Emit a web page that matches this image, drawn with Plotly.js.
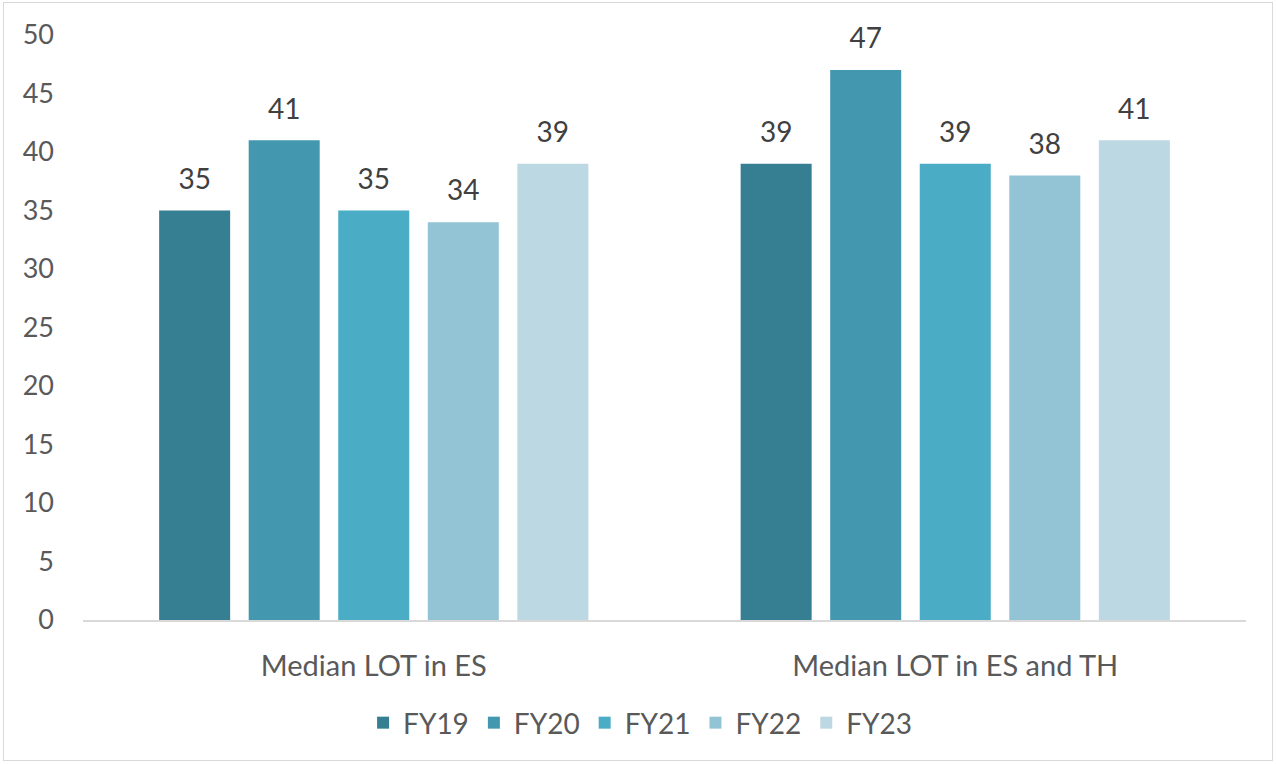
<!DOCTYPE html>
<html>
<head>
<meta charset="utf-8">
<script src="https://cdn.plot.ly/plotly-3.0.1.min.js"></script>
<style>
  html, body { margin: 0; padding: 0; background: #ffffff; }
  #frame { position: absolute; left: 3px; top: 2px; width: 1270px; height: 759px; border: 1px solid #d9d9d9; box-sizing: border-box; background: #fff; }
  #chart { width: 1268px; height: 757px; }
</style>
</head>
<body>
<div id="frame"><div id="chart"></div></div>
<script>
const categories = ["Median LOT in ES", "Median LOT in ES and TH"];
const seriesNames = ["FY19", "FY20", "FY21", "FY22", "FY23"];
const fy19 = [35, 39];
const fy20 = [41, 47];
const fy21 = [35, 39];
const fy22 = [34, 38];
const fy23 = [39, 41];
const seriesValues = [fy19, fy20, fy21, fy22, fy23];
const colors = ["#367f93", "#4398b0", "#4bacc6", "#93c4d5", "#bcd8e3"];

const FONT = "Lato, 'Open Sans', sans-serif";
const traces = [];
seriesValues.forEach((vals, i) => {
  traces.push({
    type: "bar",
    name: seriesNames[i],
    x: categories,
    y: vals,
    marker: { color: colors[i] },
    hoverinfo: "x+y+name"
  });
});
seriesValues.forEach((vals, i) => {
  traces.push({
    type: "scatter",
    mode: "markers+text",
    x: categories,
    y: vals,
    text: vals.map(String),
    textposition: "top center",
    textfont: { family: FONT, size: 28, color: "#404040" },
    marker: { size: 22, opacity: 0 },
    showlegend: false,
    hoverinfo: "skip",
    cliponaxis: false
  });
});

const layout = {
  width: 1268,
  height: 757,
  margin: { l: 79, r: 26, t: 32, b: 140 },
  paper_bgcolor: "#ffffff",
  plot_bgcolor: "#ffffff",
  font: { family: FONT, color: "#595959", size: 27 },
  barmode: "group",
  scattermode: "group",
  bargap: 0.23,
  bargroupgap: 0.207,
  scattergap: 0.23,
  xaxis: {
    showline: true, linecolor: "#d9d9d9", linewidth: 2,
    showgrid: false, zeroline: false, ticks: "",
    tickfont: { family: FONT, size: 29, color: "#595959" },
    ticklabelstandoff: 19
  },
  yaxis: {
    range: [0, 50], dtick: 5, tick0: 0,
    showline: false, showgrid: false, zeroline: false, ticks: "",
    tickfont: { family: FONT, size: 27, color: "#595959" },
    ticklabelstandoff: 28
  },
  legend: {
    orientation: "h", x: 0.479, xanchor: "center", y: -0.176, yanchor: "middle",
    font: { family: FONT, size: 28, color: "#595959" },
    itemwidth: 30, traceorder: "normal"
  },
  showlegend: true
};

Plotly.newPlot("chart", traces, layout, { displayModeBar: false, staticPlot: false });
</script>
</body>
</html>
